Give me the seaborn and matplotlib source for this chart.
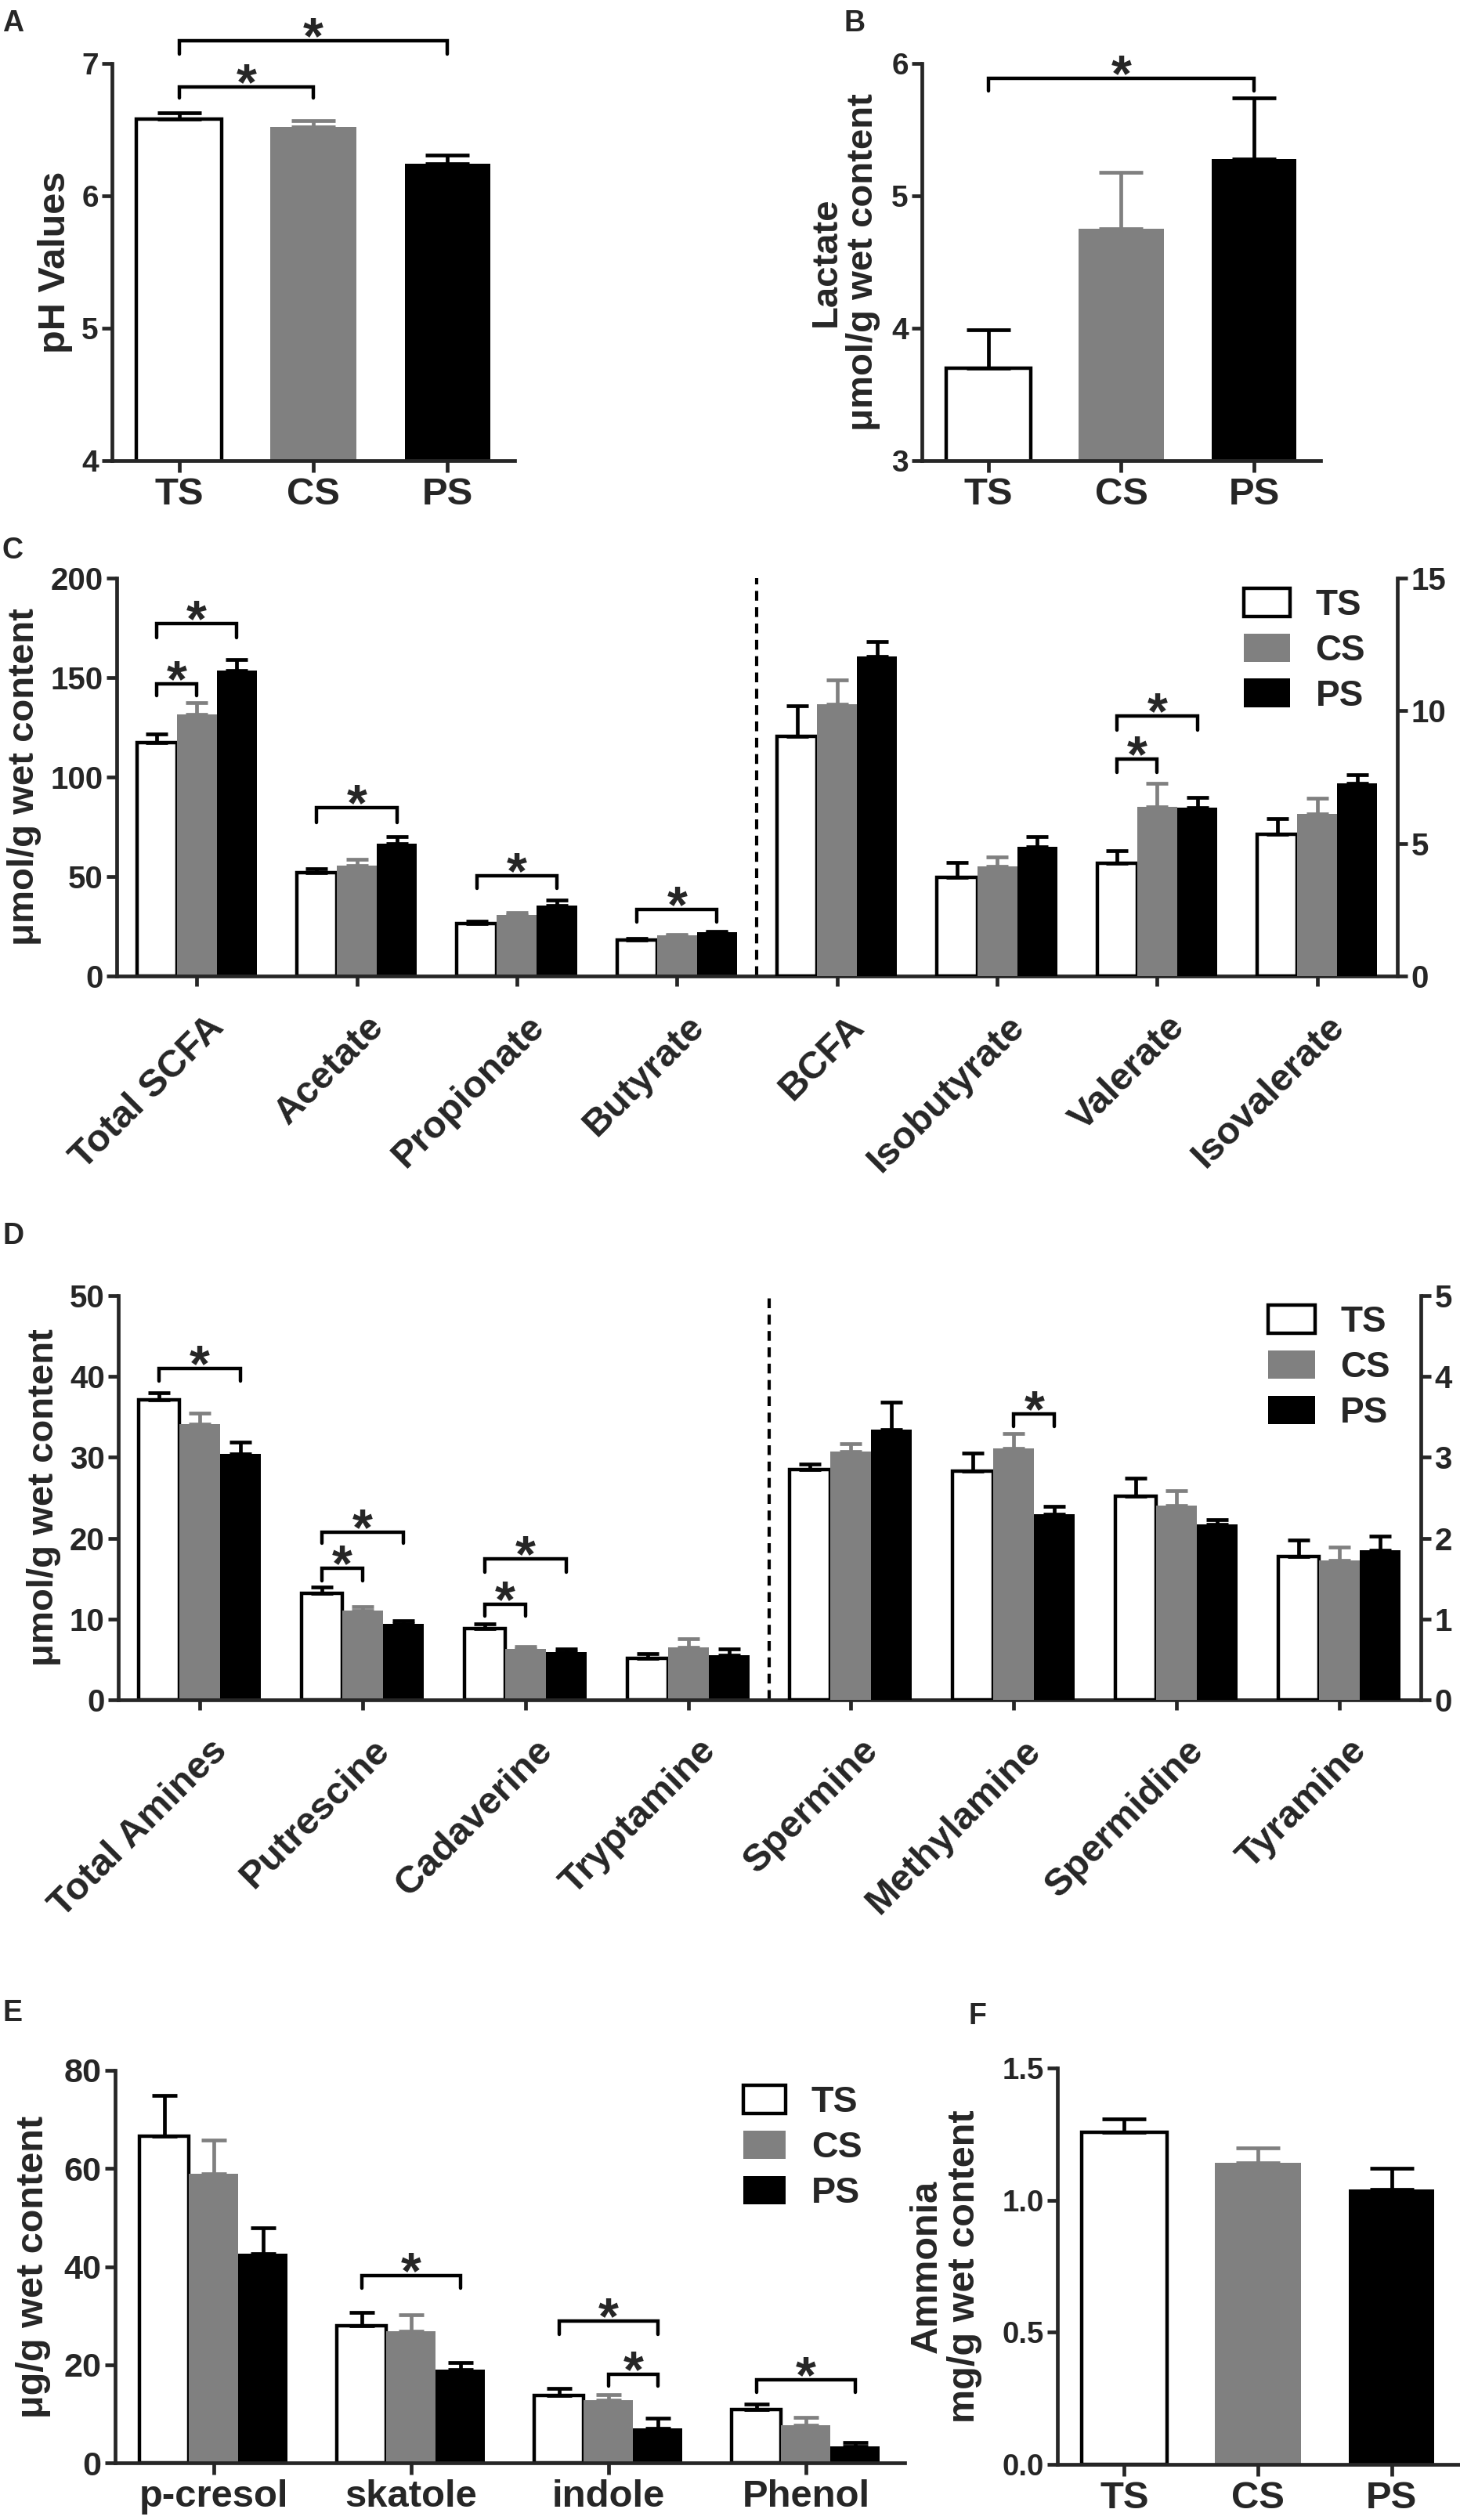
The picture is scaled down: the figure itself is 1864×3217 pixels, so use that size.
import numpy as np
import pandas as pd
import matplotlib
matplotlib.use("Agg")
import matplotlib.pyplot as plt
import matplotlib.transforms as mtransforms
import seaborn as sns
from matplotlib.patches import Patch
from matplotlib import font_manager

sns.set_style("ticks")
plt.rcParams["font.family"] = ["Liberation Sans", "DejaVu Sans"]
plt.rcParams["font.weight"] = "bold"
plt.rcParams["axes.labelweight"] = "bold"

# narrow bold font as in the GraphPad panels A, B, E, F
_names = {f.name for f in font_manager.fontManager.ttflist}
HAS_NARROW = "Liberation Sans Narrow" in _names
NARROW = ["Liberation Sans Narrow", "Liberation Sans", "DejaVu Sans"]
NS = 1.0 if HAS_NARROW else 0.84

groups = ["TS", "CS", "PS"]
fill = {"TS": "#ffffff", "CS": "#808080", "PS": "#000000"}
line = {"TS": "#000000", "CS": "#808080", "PS": "#000000"}

# ---- data ----
# A: pH
ph_mean = [6.58, 6.52, 6.24]
ph_err = [0.05, 0.05, 0.07]

# B: lactate
lac_mean = [3.70, 4.75, 5.28]
lac_err = [0.29, 0.43, 0.46]

# C: SCFA (first four on left axis, last four on right axis)
scfa_cats = ["Total SCFA", "Acetate", "Propionate", "Butyrate",
             "BCFA", "Isobutyrate", "Valerate", "Isovalerate"]
scfa_ts = [117.5, 52.1, 26.5, 18.1, 9.03, 3.71, 4.26, 5.33]
scfa_cs = [131.6, 55.7, 30.6, 20.4, 10.24, 4.14, 6.37, 6.10]
scfa_ps = [153.6, 66.4, 35.6, 22.0, 12.06, 4.86, 6.34, 7.26]
scfa_ts_err = [4.0, 1.9, 1.0, 0.7, 1.15, 0.58, 0.45, 0.60]
scfa_cs_err = [5.9, 3.0, 1.1, 0.5, 0.92, 0.34, 0.89, 0.60]
scfa_ps_err = [5.6, 3.8, 2.5, 0.5, 0.56, 0.40, 0.39, 0.34]

# D: amines
amine_cats = ["Total Amines", "Putrescine", "Cadaverine", "Tryptamine",
              "Spermine", "Methylamine", "Spermidine", "Tyramine"]
amine_ts = [37.1, 13.2, 8.8, 5.1, 2.85, 2.83, 2.52, 1.77]
amine_cs = [34.1, 11.0, 6.3, 6.5, 3.07, 3.11, 2.40, 1.72]
amine_ps = [30.4, 9.4, 5.9, 5.5, 3.34, 2.30, 2.17, 1.85]
amine_ts_err = [0.9, 0.8, 0.6, 0.6, 0.07, 0.22, 0.22, 0.21]
amine_cs_err = [1.4, 0.5, 0.3, 1.1, 0.10, 0.18, 0.19, 0.17]
amine_ps_err = [1.5, 0.4, 0.4, 0.8, 0.34, 0.09, 0.06, 0.18]

# E: phenols and indoles
phen_cats = ["p-cresol", "skatole", "indole", "Phenol"]
phen_ts = [66.6, 28.0, 13.7, 10.8]
phen_cs = [59.0, 26.8, 12.8, 7.7]
phen_ps = [42.7, 19.0, 7.1, 3.3]
phen_ts_err = [8.3, 2.6, 1.5, 1.2]
phen_cs_err = [6.8, 3.4, 1.1, 1.6]
phen_ps_err = [5.2, 1.5, 2.0, 0.8]

# F: ammonia
amm_mean = [1.256, 1.141, 1.041]
amm_err = [0.05, 0.057, 0.079]

# significance brackets: (category index, group a, group b, height, drop)
sig_a = [(0, "TS", "PS", 7.17, 0.10), (0, "TS", "CS", 6.82, 0.08)]
sig_b = [(0, "TS", "PS", 5.89, 0.10)]
sig_c_left = [(0, "TS", "PS", 177, 7), (0, "TS", "CS", 147, 6),
              (1, "TS", "PS", 84.5, 7.5), (2, "TS", "PS", 50.5, 6.5),
              (3, "TS", "PS", 33.5, 6.5)]
sig_c_right = [(6, "TS", "PS", 9.8, 0.52), (6, "TS", "CS", 8.19, 0.52)]
sig_d_left = [(0, "TS", "PS", 41.0, 1.6), (1, "TS", "PS", 20.7, 1.3),
              (1, "TS", "CS", 16.3, 1.6), (2, "TS", "PS", 17.4, 1.6),
              (2, "TS", "CS", 11.8, 1.4)]
sig_d_right = [(5, "CS", "PS", 3.54, 0.16)]
sig_e = [(1, "TS", "PS", 38.1, 2.5), (2, "TS", "PS", 28.9, 2.7),
         (2, "CS", "PS", 18.0, 2.3), (3, "TS", "PS", 17.0, 2.6)]

W, H = 1865, 3217
fig = plt.figure(figsize=(W / 100, H / 100), dpi=100)


def box(left, right, top, bottom):
    return [left / W, 1 - bottom / H, (right - left) / W, (bottom - top) / H]


LW = 3.4


def style(ax, xlen=11, ylen=9.5):
    sns.despine(ax=ax)
    for s in ["left", "bottom"]:
        ax.spines[s].set_linewidth(LW)
    ax.tick_params(axis="both", width=LW, direction="out")
    ax.tick_params(axis="x", length=xlen, pad=4)
    ax.tick_params(axis="y", length=ylen, pad=3)
    ax.set_xlabel("")


def finish_bars(ax):
    for p in ax.patches:
        fc = p.get_facecolor()
        if fc[0] > 0.9:
            p.set_edgecolor("black")
            p.set_linewidth(3.2)
        else:
            p.set_linewidth(0)


def lookup_single(ax):
    out = {}
    for p in ax.patches:
        cx = p.get_x() + p.get_width() / 2
        out[(groups[int(round(cx))], 0)] = p
    return out


def lookup_grouped(ax, width):
    bw = width / 3
    out = {}
    for p in ax.patches:
        cx = p.get_x() + p.get_width() / 2
        c = int(round(cx))
        g = groups[int(round((cx - c) / bw)) + 1]
        out[(g, c)] = p
    return out


def add_errors(ax, bars, errs, capsize):
    for (g, c), p in bars.items():
        cx = p.get_x() + p.get_width() / 2
        ax.errorbar([cx], [p.get_height()], yerr=[[0], [errs[g][c]]], fmt="none",
                    ecolor=line[g], elinewidth=3.4, capsize=capsize, capthick=3.4,
                    zorder=5, clip_on=False)


def add_sig(ax, bars, sigs, fs=48):
    for c, ga, gb, y, drop in sigs:
        pa, pb = bars[(ga, c)], bars[(gb, c)]
        x1 = pa.get_x() + pa.get_width() / 2
        x2 = pb.get_x() + pb.get_width() / 2
        ax.plot([x1, x1, x2, x2], [y - drop, y, y, y - drop], color="black",
                lw=3.2, clip_on=False, zorder=6, solid_joinstyle="miter")
        ax.annotate("*", xy=((x1 + x2) / 2, y), xytext=(0, 16 - 0.575 * fs),
                    textcoords="offset points", ha="center", va="baseline",
                    fontsize=fs, fontweight="bold", annotation_clip=False)


def legend(ax, anchor, fs, family, hl, hh):
    handles = [Patch(facecolor=fill[g], edgecolor="black" if g == "TS" else fill[g],
                     linewidth=3.2 if g == "TS" else 0, label=g) for g in groups]
    ax.legend(handles=handles, loc="upper left", bbox_to_anchor=anchor,
              frameon=False, handlelength=hl, handleheight=hh, labelspacing=0.3,
              handletextpad=0.7, borderaxespad=0, borderpad=0,
              prop={"family": family, "weight": "bold", "size": fs})


def single_panel(rect, means, errs, ylim, yticks, ylabels, ylabel, sigs,
                 ytick_fs, ytick_family, xtick_fs, ylabel_fs, labelpad):
    ax = fig.add_axes(rect)
    df = pd.DataFrame({"group": groups, "value": means})
    sns.barplot(data=df, x="group", y="value", hue="group", order=groups,
                hue_order=groups, palette=fill, width=0.64, saturation=1,
                errorbar=None, legend=False, ax=ax)
    finish_bars(ax)
    bars = lookup_single(ax)
    errd = {g: [e] for g, e in zip(groups, errs)}
    add_errors(ax, bars, errd, 20)
    ax.set_xlim(-0.5, 2.5)
    ax.set_ylim(*ylim)
    style(ax)
    ax.set_yticks(yticks)
    ax.set_yticklabels(ylabels, fontsize=ytick_fs, fontfamily=ytick_family)
    ax.set_xticks(range(3))
    ax.set_xticklabels(groups, fontsize=xtick_fs * NS, fontfamily=NARROW)
    ax.set_ylabel(ylabel, fontsize=ylabel_fs, labelpad=labelpad, linespacing=1.1)
    add_sig(ax, bars, sigs)
    return ax


def dual_panel(rect, cats, ts, cs, ps, ts_e, cs_e, ps_e, ylim_l, yt_l, ylim_r,
               yt_r, ylabel, sig_l, sig_r, leg_anchor):
    ax = fig.add_axes(rect)
    ax2 = ax.twinx()
    means = {"TS": ts, "CS": cs, "PS": ps}
    errs = {"TS": ts_e, "CS": cs_e, "PS": ps_e}
    rows_l = [{"cat": cats[i], "group": g, "value": means[g][i]}
              for g in groups for i in range(4)]
    rows_r = [{"cat": cats[i], "group": g, "value": means[g][i]}
              for g in groups for i in range(4, 8)]
    sns.barplot(data=pd.DataFrame(rows_l), x="cat", y="value", hue="group",
                order=cats, hue_order=groups, palette=fill, width=0.75,
                saturation=1, errorbar=None, legend=False, ax=ax)
    sns.barplot(data=pd.DataFrame(rows_r), x="cat", y="value", hue="group",
                order=cats, hue_order=groups, palette=fill, width=0.75,
                saturation=1, errorbar=None, legend=False, ax=ax2)
    for a in (ax, ax2):
        finish_bars(a)
    bars_l = lookup_grouped(ax, 0.75)
    bars_r = lookup_grouped(ax2, 0.75)
    add_errors(ax, bars_l, errs, 10)
    add_errors(ax2, bars_r, errs, 10)
    ax.set_xlim(-0.5, 7.5)
    ax.set_ylim(*ylim_l)
    ax2.set_ylim(*ylim_r)
    style(ax, xlen=9)
    ax.axvline(3.5, color="black", lw=3, dashes=(3, 2))
    for s in ["left", "top", "bottom"]:
        ax2.spines[s].set_visible(False)
    ax2.spines["right"].set_visible(True)
    ax2.spines["right"].set_linewidth(LW)
    ax2.tick_params(axis="y", width=LW, length=9.5, direction="out", pad=3)
    ax.set_yticks(yt_l)
    ax.set_yticklabels([str(v) for v in yt_l], fontsize=29)
    ax2.set_yticks(yt_r)
    ax2.set_yticklabels([str(v) for v in yt_r], fontsize=29)
    ax2.set_ylabel("")
    ax.set_xticks(range(8))
    ax.set_xticklabels(cats, fontsize=35, rotation=45, ha="right", va="top",
                       rotation_mode="anchor")
    # the rotated labels sit a little lower and to the right of the ticks
    shift = mtransforms.ScaledTranslation(0.12, -0.24, fig.dpi_scale_trans)
    for lbl in ax.get_xticklabels():
        lbl.set_transform(lbl.get_transform() + shift)
    ax.set_ylabel(ylabel, fontsize=34, labelpad=8)
    add_sig(ax, bars_l, sig_l)
    add_sig(ax2, bars_r, sig_r)
    legend(ax2, leg_anchor, 33, ["Liberation Sans", "DejaVu Sans"], 1.3, 0.85)
    return ax, ax2


# ---- A ----
single_panel(box(143, 657, 81, 588), ph_mean, ph_err, (4, 7), [4, 5, 6, 7],
             ["4", "5", "6", "7"], "pH Values", sig_a, 28,
             ["Liberation Sans", "DejaVu Sans"], 42, 35, 8)

# ---- B ----
single_panel(box(1177, 1686, 81, 588), lac_mean, lac_err, (3, 6), [3, 4, 5, 6],
             ["3", "4", "5", "6"], "Lactate\nμmol/g wet content", sig_b, 28,
             ["Liberation Sans", "DejaVu Sans"], 42, 34, 10)

# ---- C ----
dual_panel(box(149, 1784, 738, 1246), scfa_cats, scfa_ts, scfa_cs, scfa_ps,
           scfa_ts_err, scfa_cs_err, scfa_ps_err, (0, 200), [0, 50, 100, 150, 200],
           (0, 15), [0, 5, 10, 15], "μmol/g wet content", sig_c_left, sig_c_right,
           (0.88, 0.975))

# ---- D ----
dual_panel(box(151, 1814, 1654, 2170), amine_cats, amine_ts, amine_cs, amine_ps,
           amine_ts_err, amine_cs_err, amine_ps_err, (0, 50), [0, 10, 20, 30, 40, 50],
           (0, 5), [0, 1, 2, 3, 4, 5], "μmol/g wet content", sig_d_left, sig_d_right,
           (0.883, 0.977))

# ---- E ----
axE = fig.add_axes(box(147, 1155, 2643, 3144))
rows = [{"cat": phen_cats[i], "group": g, "value": v}
        for g, vals in zip(groups, [phen_ts, phen_cs, phen_ps])
        for i, v in enumerate(vals)]
sns.barplot(data=pd.DataFrame(rows), x="cat", y="value", hue="group",
            order=phen_cats, hue_order=groups, palette=fill, width=0.75,
            saturation=1, errorbar=None, legend=False, ax=axE)
finish_bars(axE)
barsE = lookup_grouped(axE, 0.75)
add_errors(axE, barsE, {"TS": phen_ts_err, "CS": phen_cs_err, "PS": phen_ps_err}, 11.5)
axE.set_xlim(-0.5, 3.5)
axE.set_ylim(0, 80)
style(axE)
axE.set_yticks([0, 20, 40, 60, 80])
axE.set_yticklabels(["0", "20", "40", "60", "80"], fontsize=37 * NS, fontfamily=NARROW)
axE.set_xticks(range(4))
axE.set_xticklabels(phen_cats, fontsize=42 * NS, fontfamily=NARROW)
axE.set_ylabel("μg/g wet content", fontsize=35, labelpad=12)
add_sig(axE, barsE, sig_e)
legend(axE, (0.796, 0.962), 40 * NS, NARROW, 1.15, 0.8)

# ---- F ----
single_panel(box(1350, 1862, 2640, 3146), amm_mean, amm_err, (0, 1.5),
             [0, 0.5, 1.0, 1.5], ["0.0", "0.5", "1.0", "1.5"],
             "Ammonia\nmg/g wet content", [], 33 * NS, NARROW, 42, 35, 18)

# panel letters
for letter, x, y in [("A", 3, 12), ("B", 1078, 12), ("C", 3, 685),
                     ("D", 3, 1560), ("E", 3, 2552), ("F", 1237, 2556)]:
    fig.text(x / W, 1 - y / H, letter, fontsize=27, fontweight="bold",
             va="top", ha="left")

fig.savefig("out.png", dpi=100)
